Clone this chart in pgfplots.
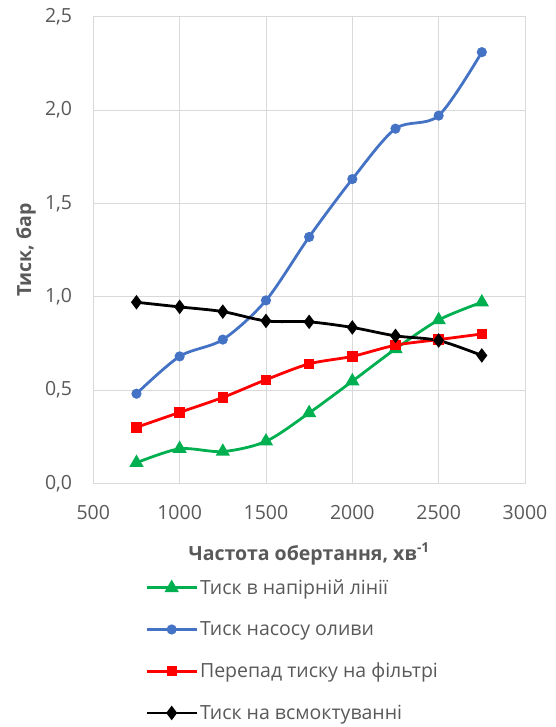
\documentclass[border=0pt]{standalone}
\usepackage{pgfplots}
\pgfplotsset{compat=1.18}
\usepackage{fontspec}
\setmainfont{Open Sans}
\definecolor{tickgray}{HTML}{595959}
\definecolor{gridgray}{HTML}{D9D9D9}
\definecolor{xlgreen}{HTML}{00B050}
\definecolor{xlblue}{HTML}{4472C4}
\definecolor{xlred}{HTML}{FF0000}
\begin{document}
\begin{tikzpicture}
\useasboundingbox (-93.3bp,-243.7bp) rectangle (462.7bp,483.3bp);
\begin{axis}[
  at={(0,0)}, anchor=south west,
  scale only axis, width=431.7bp, height=466.6bp,
  xmin=500, xmax=3000, ymin=0, ymax=2.5,
  xtick={500,1000,1500,2000,2500,3000},
  ytick={0,0.5,1,1.5,2,2.5},
  grid=major,
  major grid style={gridgray, line width=0.9bp},
  axis line style={gridgray, line width=0.9bp},
  tick style={draw=none},
  /pgf/number format/assume math mode=true,
  ticklabel style={font=\fontsize{19.5bp}{23bp}\selectfont, text=tickgray},
  y tick label style={inner sep=0pt, xshift=-21bp, /pgf/number format/.cd, fixed, fixed zerofill, precision=1, use comma},
  x tick label style={inner sep=0pt, yshift=-21.5bp, /pgf/number format/.cd, 1000 sep={}},
  xlabel={Частота обертання, хв\textsuperscript{-1}},
  ylabel={Тиск, бар},
  label style={font=\bfseries\fontsize{19.5bp}{23bp}\selectfont, text=tickgray},
  x label style={at={(axis description cs:0.5,-0.165)}, anchor=base},
  y label style={at={(axis description cs:-0.156,0.5)}, anchor=center},
  legend style={at={(axis description cs:0.12,-0.202)}, anchor=north west,
    draw=none, fill=none, inner sep=0pt, row sep=21.8bp,
    font=\fontsize{19.5bp}{23bp}\selectfont, text=tickgray},
  legend cell align=left,
  legend image code/.code={\draw[mark repeat=2,mark phase=2,#1] plot coordinates {(0bp,0bp) (25bp,0bp) (50bp,0bp)};},
  every axis plot/.append style={line width=2.8bp, smooth},
]
\addplot[xlgreen, mark=triangle*, mark size=5.5bp, mark options={solid}] coordinates {
(750,0.11) (1000,0.185) (1250,0.17) (1500,0.225) (1750,0.377) (2000,0.547) (2250,0.72) (2500,0.875) (2750,0.97)};
\addlegendentry{Тиск в напірній лінії}
\addplot[xlblue, mark=*, mark size=3.6bp] coordinates {
(750,0.48) (1000,0.68) (1250,0.77) (1500,0.98) (1750,1.32) (2000,1.63) (2250,1.90) (2500,1.97) (2750,2.31)};
\addlegendentry{Тиск насосу оливи}
\addplot[xlred, mark=square*, mark size=3.8bp] coordinates {
(750,0.30) (1000,0.38) (1250,0.46) (1500,0.555) (1750,0.64) (2000,0.68) (2250,0.74) (2500,0.77) (2750,0.80)};
\addlegendentry{Перепад тиску на фільтрі}
\addplot[black, mark=diamond*, mark size=5bp] coordinates {
(750,0.97) (1000,0.945) (1250,0.92) (1500,0.87) (1750,0.865) (2000,0.835) (2250,0.79) (2500,0.765) (2750,0.685)};
\addlegendentry{Тиск на всмоктуванні}
\end{axis}
\end{tikzpicture}
\end{document}
